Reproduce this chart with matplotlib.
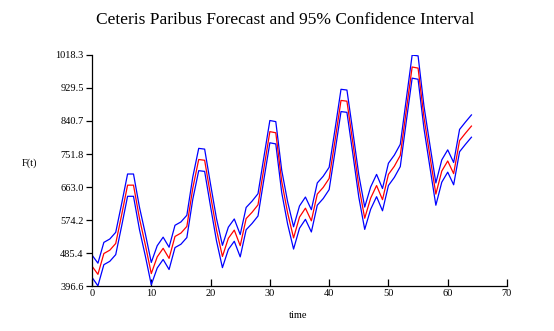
import matplotlib
matplotlib.use("Agg")
import matplotlib.pyplot as plt
import numpy as np

plt.rcParams['font.family'] = ['Liberation Serif', 'DejaVu Serif']

# forecast and 95% confidence bounds
forecast = [450, 428, 484, 493, 511, 588, 668, 668, 579, 507, 430, 475,
            498, 471, 530, 539, 557, 660, 737, 735, 640, 548, 476, 525,
            547, 505, 578, 595, 615, 714, 812, 809, 678, 593, 526, 582,
            606, 572, 644, 662, 686, 789, 896, 894, 782, 666, 579, 633,
            667, 629, 697, 719, 748, 868, 986, 983, 850, 746, 644, 706,
            733, 699, 788, 808, 827]
upper = [480, 458, 514, 523, 541, 618, 698, 698, 609, 537, 460, 505,
         528, 501, 560, 569, 587, 690, 767, 765, 670, 578, 506, 555,
         577, 535, 608, 625, 645, 744, 842, 839, 708, 623, 556, 612,
         636, 602, 674, 692, 716, 819, 926, 924, 812, 696, 609, 663,
         697, 659, 727, 749, 778, 898, 1018, 1016, 880, 776, 674, 736,
         763, 729, 818, 838, 857]
lower = [420, 397, 454, 463, 481, 558, 638, 638, 549, 477, 400, 445,
         468, 441, 500, 509, 527, 630, 707, 705, 610, 518, 446, 495,
         517, 475, 548, 565, 585, 684, 782, 779, 648, 563, 496, 552,
         576, 542, 614, 632, 656, 759, 866, 864, 752, 636, 549, 603,
         637, 599, 667, 689, 718, 838, 956, 953, 820, 716, 614, 676,
         703, 669, 758, 778, 797]
t = np.arange(len(forecast))

ytick_vals = [396.6, 485.4, 574.2, 663.0, 751.8, 840.7, 929.5, 1018.3]
xtick_vals = [0, 10, 20, 30, 40, 50, 60, 70]

fig = plt.figure(figsize=(5.54, 3.31), dpi=100)
ax = fig.add_axes([92 / 554, 1 - 286 / 331, 415 / 554, 231 / 331])

ax.plot(t, upper, color='#0000ff', lw=0.9)
ax.plot(t, lower, color='#0000ff', lw=0.9)
ax.plot(t, forecast, color='#ff0000', lw=0.9)

ax.set_xlim(0, 70)
ax.set_ylim(396.6, 1018.3)
ax.set_xticks(xtick_vals)
ax.set_yticks(ytick_vals)
ax.set_yticklabels(['%.1f' % v for v in ytick_vals])
ax.tick_params(axis='x', direction='in', length=5, width=0.9, labelsize=7.5, pad=2)
ax.tick_params(axis='y', direction='out', length=4, width=0.9, labelsize=7.5, pad=2)

for side in ['top', 'right']:
    ax.spines[side].set_visible(False)
for side in ['left', 'bottom']:
    ax.spines[side].set_linewidth(0.9)

fig.text(285 / 554, 1 - 20 / 331, 'Ceteris Paribus Forecast and 95% Confidence Interval',
         ha='center', va='center', fontsize=12.5)
fig.text(298 / 554, 1 - 315 / 331, 'time', ha='center', va='center', fontsize=7.5)
fig.text(30 / 554, 1 - 163 / 331, 'F(t)', ha='center', va='center', fontsize=7.5)

fig.savefig('out.png', dpi=100)
